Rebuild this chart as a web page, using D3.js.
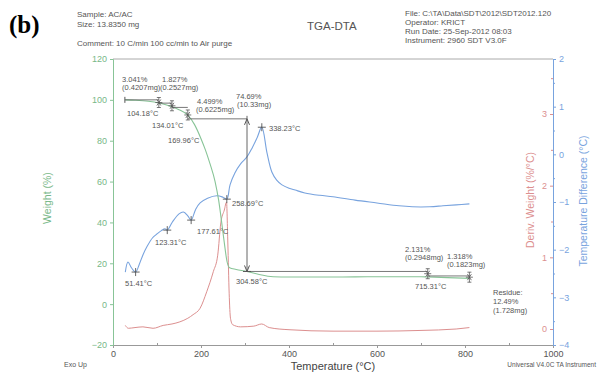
<!DOCTYPE html>
<html>
<head>
<meta charset="utf-8">
<script src="https://cdn.jsdelivr.net/npm/d3@7"></script>
<style>
body { margin: 0; background: #fff; }
text { font-family: "Liberation Sans", Arial, sans-serif; }
</style>
</head>
<body>
<div id="chart"></div>
<script>
// weight curve (green, left axis)
var weightTemp = [28, 50, 80, 104, 120, 134, 150, 170, 185, 200, 210, 220, 232, 240, 247, 253, 259, 265, 280, 304, 330, 364, 400, 500, 600, 700, 715, 760, 810]
var weightPct  = [100, 99.8, 99.3, 98.5, 97.6, 96.6, 95.2, 92.5, 88, 81, 75.5, 69, 60, 51, 40, 30, 21, 17.8, 17.0, 16.0, 14.6, 13.4, 13.3, 13.3, 13.4, 13.4, 13.3, 13.0, 12.6]

// temperature difference (blue, outer right axis)
var dtaTemp = [28, 34, 42, 51.4, 60, 68, 77, 90, 100, 110, 118, 123.3, 135, 150, 160, 170, 177.6, 188, 198, 215, 236, 250, 258.7, 266, 277, 290, 304, 316, 328, 338.2, 350, 361, 372, 384, 400, 414, 436, 470, 500, 550, 600, 650, 680, 720, 750, 780, 810]
var dtaDiff = [-2.47, -2.26, -2.38, -2.47, -2.3, -2.11, -1.94, -1.75, -1.67, -1.6, -1.56, -1.59, -1.42, -1.25, -1.21, -1.29, -1.38, -1.15, -1.02, -0.92, -0.87, -0.9, -0.94, -0.64, -0.39, -0.2, -0.06, 0.13, 0.36, 0.57, 0.03, -0.37, -0.54, -0.64, -0.71, -0.75, -0.81, -0.86, -0.89, -0.96, -1.02, -1.08, -1.1, -1.1, -1.08, -1.06, -1.04]

// derivative weight (red, inner right axis)
var derivTemp = [28, 35, 50, 68, 91, 114, 134, 152, 170, 182, 198, 213, 228, 238, 245, 253, 258, 261, 264, 267, 272, 290, 320, 338, 355, 400, 500, 600, 700, 780, 810]
var derivVal  = [0.05, 0.01, 0.02, 0.03, 0.01, 0.05, 0.07, 0.1, 0.15, 0.2, 0.29, 0.52, 0.8, 1.03, 1.48, 1.66, 1.77, 1.2, 0.5, 0.15, 0.06, 0.03, 0.04, 0.07, 0.02, -0.01, -0.03, -0.03, -0.02, 0.0, 0.02]

// step analysis lines [temp start, temp end, weight level]
var stepStart = [27, 104.18, 134.01, 169.96, 304.58, 715.31]
var stepEnd   = [104.18, 134.01, 169.96, 304.58, 715.31, 810]
var stepLevel = [100, 98.4, 96.3, 90.7, 16.0, 13.8]
var stepMarkT = [104.18, 134.01, 169.96, 715.31, 810]
var stepMarkW = [98.7, 97.1, 92.6, 14.9, 13.2]

// DTA peak markers
var peakTemp = [51.41, 123.31, 177.61, 258.69, 338.23]

var xTicks = [0, 200, 400, 600, 800, 1000]
var wTicks = [-20, 0, 20, 40, 60, 80, 100, 120]
var dTicks = [0, 1, 2, 3]
var tTicks = [-4, -3, -2, -1, 0, 1, 2]

var green = "#88c497", greenText = "#78b888"
var blue = "#78a3de", red = "#dc8f8f"

var svg = d3.select("#chart").append("svg")
    .attr("width", 598).attr("height", 374)

var x = d3.scaleLinear().domain([0, 1000]).range([113, 553])
var yW = d3.scaleLinear().domain([-20, 120]).range([345, 59])
var yD = d3.scaleLinear().domain([0, 3]).range([329, 114])
var yT = d3.scaleLinear().domain([-4, 2]).range([345, 59])

// header texts
svg.append("text").attr("x", 9).attr("y", 33)
    .style("font-family", "'Liberation Serif', 'Times New Roman', serif")
    .style("font-weight", "bold").style("font-size", "25px").text("(b)")
var hdr = [["Sample: AC/AC", 77, 17], ["Size:  13.8350 mg", 77, 27], ["Comment: 10 C/min 100 cc/min to Air purge", 77, 46]]
hdr.forEach(function(h) {
    svg.append("text").attr("x", h[1]).attr("y", h[2]).style("font-size", "8px").attr("fill", "#555").text(h[0])
})
svg.append("text").attr("x", 307).attr("y", 30).style("font-size", "11.5px").attr("fill", "#555").text("TGA-DTA")
var file = ["File: C:\\TA\\Data\\SDT\\2012\\SDT2012.120", "Operator: KRICT", "Run Date: 25-Sep-2012 08:03", "Instrument: 2960 SDT V3.0F"]
file.forEach(function(f, i) {
    svg.append("text").attr("x", 405).attr("y", 16 + i * 9).style("font-size", "8px").attr("fill", "#555").text(f)
})

// frame
svg.append("line").attr("x1", 113).attr("x2", 553).attr("y1", 59).attr("y2", 59).attr("stroke", "#aaa")

// bottom axis
var xAxis = svg.append("g").attr("transform", "translate(0,345)")
    .call(d3.axisBottom(x).tickValues(xTicks).tickSize(3).tickFormat(d3.format("d")))
xAxis.select(".domain").attr("stroke", "#999")
xAxis.selectAll(".tick line").attr("stroke", "#999")
xAxis.selectAll("text").style("font-size", "9px").attr("fill", "#555")
svg.append("g").attr("transform", "translate(0,345)")
    .call(d3.axisTop(x).tickValues([100, 300, 500, 700, 900]).tickSize(2).tickFormat(""))
    .call(function(g) { g.select(".domain").remove(); g.selectAll("line").attr("stroke", "#999") })

// left axis
var wAxis = svg.append("g").attr("transform", "translate(113,0)")
    .call(d3.axisLeft(yW).tickValues(wTicks).tickSize(3).tickFormat(d3.format("d")))
wAxis.select(".domain").attr("stroke", green)
wAxis.selectAll(".tick line").attr("stroke", green)
wAxis.selectAll("text").style("font-size", "9px").attr("fill", greenText)

// red axis (ticks on left of the right line)
var dAxis = svg.append("g").attr("transform", "translate(553,0)")
    .call(d3.axisLeft(yD).tickValues(dTicks).tickSize(3).tickFormat(d3.format("d")))
dAxis.select(".domain").remove()
dAxis.selectAll(".tick line").attr("stroke", red)
dAxis.selectAll("text").style("font-size", "9px").attr("fill", red)
svg.append("g").attr("transform", "translate(553,0)")
    .call(d3.axisLeft(yD).tickValues([0.5, 1.5, 2.5, 3.5]).tickSize(2).tickFormat(""))
    .call(function(g) { g.select(".domain").remove(); g.selectAll("line").attr("stroke", red) })

// blue axis
var tAxis = svg.append("g").attr("transform", "translate(553,0)")
    .call(d3.axisRight(yT).tickValues(tTicks).tickSize(3).tickFormat(d3.format("d")))
tAxis.select(".domain").attr("stroke", blue)
tAxis.selectAll(".tick line").attr("stroke", blue)
tAxis.selectAll("text").style("font-size", "9px").attr("fill", blue)
svg.append("g").attr("transform", "translate(553,0)")
    .call(d3.axisRight(yT).tickValues([-3.5, -2.5, -1.5, -0.5, 0.5, 1.5]).tickSize(2).tickFormat(""))
    .call(function(g) { g.select(".domain").remove(); g.selectAll("line").attr("stroke", blue) })

// axis titles
svg.append("text").attr("transform", "translate(51,198) rotate(-90)").attr("text-anchor", "middle")
    .style("font-size", "10.5px").attr("fill", greenText).text("Weight (%)")
svg.append("text").attr("transform", "translate(534,200) rotate(-90)").attr("text-anchor", "middle")
    .style("font-size", "10.5px").attr("fill", red).text("Deriv. Weight (%/°C)")
svg.append("text").attr("transform", "translate(587,201) rotate(-90)").attr("text-anchor", "middle")
    .style("font-size", "10.5px").attr("fill", blue).text("Temperature Difference (°C)")
svg.append("text").attr("x", 333).attr("y", 370).attr("text-anchor", "middle")
    .style("font-size", "11px").attr("fill", "#444").text("Temperature (°C)")
svg.append("text").attr("x", 64).attr("y", 367).style("font-size", "7px").attr("fill", "#555").text("Exo Up")
svg.append("text").attr("x", 596).attr("y", 367).attr("text-anchor", "end")
    .style("font-size", "6.5px").attr("fill", "#555").text("Universal V4.0C TA Instrument")

// curves
var weightLine = d3.line().x(function(d, i) { return x(weightTemp[i]) }).y(function(d) { return yW(d) }).curve(d3.curveMonotoneX)
var dtaLine = d3.line().x(function(d, i) { return x(dtaTemp[i]) }).y(function(d) { return yT(d) }).curve(d3.curveCatmullRom)
var derivLine = d3.line().x(function(d, i) { return x(derivTemp[i]) }).y(function(d) { return yD(d) }).curve(d3.curveMonotoneX)

svg.append("path").attr("d", derivLine(derivVal)).attr("fill", "none").attr("stroke", red).attr("stroke-width", 1)
svg.append("path").attr("d", dtaLine(dtaDiff)).attr("fill", "none").attr("stroke", blue).attr("stroke-width", 1.1)
svg.append("path").attr("d", weightLine(weightPct)).attr("fill", "none").attr("stroke", green).attr("stroke-width", 1.1)

// step analysis
var stepCol = "#555"
stepStart.forEach(function(s, i) {
    svg.append("line").attr("x1", x(s)).attr("x2", x(stepEnd[i]))
        .attr("y1", yW(stepLevel[i])).attr("y2", yW(stepLevel[i])).attr("stroke", stepCol).attr("stroke-width", 0.8)
})
svg.append("line").attr("x1", x(27)).attr("x2", x(27)).attr("y1", yW(100) - 3).attr("y2", yW(100) + 3).attr("stroke", stepCol)
// big vertical double arrow
var ax = x(304.58), aTop = yW(90.7), aBot = yW(16.0)
svg.append("line").attr("x1", ax).attr("x2", ax).attr("y1", aTop - 3).attr("y2", aBot).attr("stroke", stepCol).attr("stroke-width", 0.9)
svg.append("path").attr("d", "M" + (ax - 2.5) + "," + (aTop + 6) + "L" + ax + "," + aTop + "L" + (ax + 2.5) + "," + (aTop + 6))
    .attr("fill", "none").attr("stroke", stepCol)
svg.append("path").attr("d", "M" + (ax - 2.5) + "," + (aBot - 6) + "L" + ax + "," + aBot + "L" + (ax + 2.5) + "," + (aBot - 6))
    .attr("fill", "none").attr("stroke", stepCol)
svg.append("line").attr("x1", ax - 4).attr("x2", ax + 4).attr("y1", aBot).attr("y2", aBot).attr("stroke", stepCol)

// step markers (cross with bars)
stepMarkT.forEach(function(t, i) {
    var cx = x(t), cy = yW(stepMarkW[i])
    var g = svg.append("g").attr("stroke", stepCol).attr("stroke-width", 0.8)
    g.append("line").attr("x1", cx).attr("x2", cx).attr("y1", cy - 5).attr("y2", cy + 5)
    g.append("line").attr("x1", cx - 2).attr("x2", cx + 2).attr("y1", cy - 5).attr("y2", cy - 5)
    g.append("line").attr("x1", cx - 2).attr("x2", cx + 2).attr("y1", cy + 5).attr("y2", cy + 5)
    g.append("line").attr("x1", cx - 3.5).attr("x2", cx + 3.5).attr("y1", cy).attr("y2", cy)
    g.append("path").attr("d", "M" + (cx - 2) + "," + (cy - 3) + "L" + (cx + 2) + "," + (cy + 3) + "M" + (cx + 2) + "," + (cy - 3) + "L" + (cx - 2) + "," + (cy + 3))
})

// DTA peak markers
var dtaAt = d3.scaleLinear().domain(dtaTemp).range(dtaDiff)
peakTemp.forEach(function(t) {
    var cx = x(t), cy = yT(dtaAt(t))
    svg.append("path").attr("d", "M" + (cx - 4) + "," + cy + "H" + (cx + 4) + "M" + cx + "," + (cy - 4) + "V" + (cy + 4))
        .attr("stroke", "#555").attr("stroke-width", 0.9)
})

// annotation texts
var notes = [
    ["3.041%", 122, 82], ["(0.4207mg)", 122, 90], ["1.827%", 162, 82], ["(0.2527mg)", 160, 90],
    ["104.18°C", 127, 116], ["134.01°C", 152, 128], ["4.499%", 197, 104], ["(0.6225mg)", 196, 112],
    ["169.96°C", 168, 143], ["74.69%", 236, 99], ["(10.33mg)", 237, 107], ["338.23°C", 269, 131],
    ["258.69°C", 232, 206], ["177.61°C", 197, 234], ["123.31°C", 155, 245], ["51.41°C", 125, 286],
    ["304.58°C", 236, 284], ["2.131%", 405, 252], ["(0.2948mg)", 405, 260], ["1.318%", 447, 259],
    ["(0.1823mg)", 447, 267], ["715.31°C", 415, 289], ["Residue:", 493, 295], ["12.49%", 493, 304], ["(1.728mg)", 493, 313]
]
notes.forEach(function(n) {
    svg.append("text").attr("x", n[1]).attr("y", n[2]).style("font-size", "7.5px").attr("fill", "#555").text(n[0])
})
</script>
</body>
</html>
